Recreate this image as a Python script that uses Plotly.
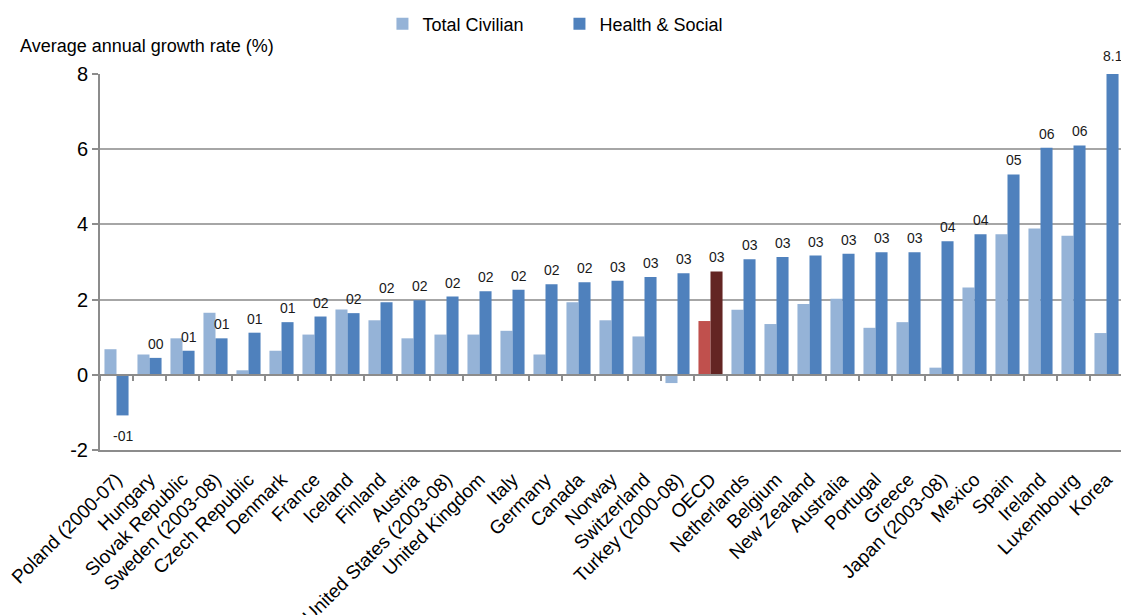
import plotly.graph_objects as go

countries = [
    "Poland (2000-07)", "Hungary", "Slovak Republic", "Sweden (2003-08)",
    "Czech Republic", "Denmark", "France", "Iceland", "Finland", "Austria",
    "United States (2003-08)", "United Kingdom", "Italy", "Germany", "Canada",
    "Norway", "Switzerland", "Turkey (2000-08)", "OECD", "Netherlands",
    "Belgium", "New Zealand", "Australia", "Portugal", "Greece",
    "Japan (2003-08)", "Mexico", "Spain", "Ireland", "Luxembourg", "Korea",
]

total_civilian = [
    0.68, 0.54, 0.97, 1.65, 0.12, 0.64, 1.07, 1.74, 1.45, 0.97,
    1.07, 1.07, 1.17, 0.54, 1.93, 1.45, 1.02, -0.22, 1.43, 1.73,
    1.35, 1.88, 2.02, 1.25, 1.40, 0.19, 2.32, 3.74, 3.89, 3.70, 1.11,
]

health_social = [
    -1.08, 0.45, 0.64, 0.97, 1.12, 1.40, 1.55, 1.64, 1.93, 1.98,
    2.08, 2.22, 2.26, 2.41, 2.46, 2.50, 2.60, 2.70, 2.75, 3.07,
    3.13, 3.17, 3.22, 3.26, 3.26, 3.55, 3.74, 5.33, 6.04, 6.10, 8.1,
]

health_labels = [
    "-01", "00", "01", "01", "01", "01", "02", "02", "02", "02",
    "02", "02", "02", "02", "02", "03", "03", "03", "03", "03",
    "03", "03", "03", "03", "03", "04", "04", "05", "06", "06", "8.1",
]

y_ticks = [-2, 0, 2, 4, 6, 8]
y_tick_text = ["-2", "0", "2", "4", "6", "8"]
y_range = [-2, 8]

highlight = "OECD"
light_blue, dark_blue = "#95B3D7", "#4F81BD"
light_red, dark_red = "#C0504D", "#632523"

civ_colors = [light_red if c == highlight else light_blue for c in countries]
hs_colors = [dark_red if c == highlight else dark_blue for c in countries]

font_family = "Liberation Sans, Arial, sans-serif"

fig = go.Figure()
fig.add_trace(go.Bar(
    x=countries, y=total_civilian, name="Total Civilian",
    marker=dict(color=civ_colors, line=dict(width=0)),
))
fig.add_trace(go.Bar(
    x=countries, y=health_social, name="Health & Social",
    marker=dict(color=hs_colors, line=dict(width=0)),
))
# empty trace carrying the zero baseline axis with its category ticks
fig.add_trace(go.Bar(
    x=countries, y=[0] * len(countries), xaxis="x2", showlegend=False,
    hoverinfo="skip", marker=dict(color="rgba(0,0,0,0)"),
))


def to_domain(v):
    """Position of a y value as a fraction of the y axis domain."""
    return (v - y_range[0]) / (y_range[1] - y_range[0])


# value labels above (or below, for negatives) the Health & Social bars;
# placed in domain units so the label over the tallest bar is not dropped
label_notes = [
    dict(
        x=c, y=to_domain(v), xref="x", yref="y domain", text=t,
        showarrow=False, xshift=6, yshift=14 if v >= 0 else -21,
        yanchor="middle",
        font=dict(family=font_family, size=14, color="#1a1a1a"),
    )
    for c, v, t in zip(countries, health_social, health_labels)
]

n = len(countries)
x_range = [-0.5, n - 0.5 - 2 / 33]

fig.update_layout(
    width=1121, height=615,
    margin=dict(l=100, r=0, t=74, b=165, autoexpand=False),
    paper_bgcolor="white", plot_bgcolor="white",
    barmode="group", bargap=0.27, bargroupgap=0,
    font=dict(family=font_family, size=18, color="black"),
    showlegend=True,
    legend=dict(
        orientation="h", x=0.45, xanchor="center", y=1.133, yanchor="middle",
        font=dict(family=font_family, size=18), itemwidth=30,
        entrywidth=132, bgcolor="rgba(0,0,0,0)",
    ),
    xaxis=dict(
        range=x_range, tickangle=-45, showline=True, linecolor="#8c8c8c",
        linewidth=2, ticks="", showgrid=False, zeroline=False,
        automargin=False, ticklabelstandoff=9,
        tickfont=dict(family=font_family, size=19, color="black"),
    ),
    xaxis2=dict(
        overlaying="x", matches="x", anchor="free", position=0.2,
        showline=True, linecolor="#8c8c8c", linewidth=2,
        ticks="outside", tickson="boundaries", ticklen=5, tickwidth=2,
        tickcolor="#8c8c8c", showticklabels=False, showgrid=False,
        zeroline=False, automargin=False,
    ),
    yaxis=dict(
        range=y_range, tickvals=y_ticks, ticktext=y_tick_text,
        showgrid=True, gridcolor="#a6a6a6",
        gridwidth=2, zeroline=False, showline=True, linecolor="#8c8c8c",
        linewidth=2, ticks="outside", ticklen=6, tickwidth=2,
        tickcolor="#8c8c8c", automargin=False,
        tickfont=dict(family=font_family, size=20, color="black"),
    ),
    annotations=label_notes + [dict(
        text="Average annual growth rate (%)", xref="paper", yref="paper",
        x=-0.0803, y=1.0745, xanchor="left", yanchor="middle",
        showarrow=False, font=dict(family=font_family, size=18, color="black"),
    )],
)

fig.write_html("out.html")
